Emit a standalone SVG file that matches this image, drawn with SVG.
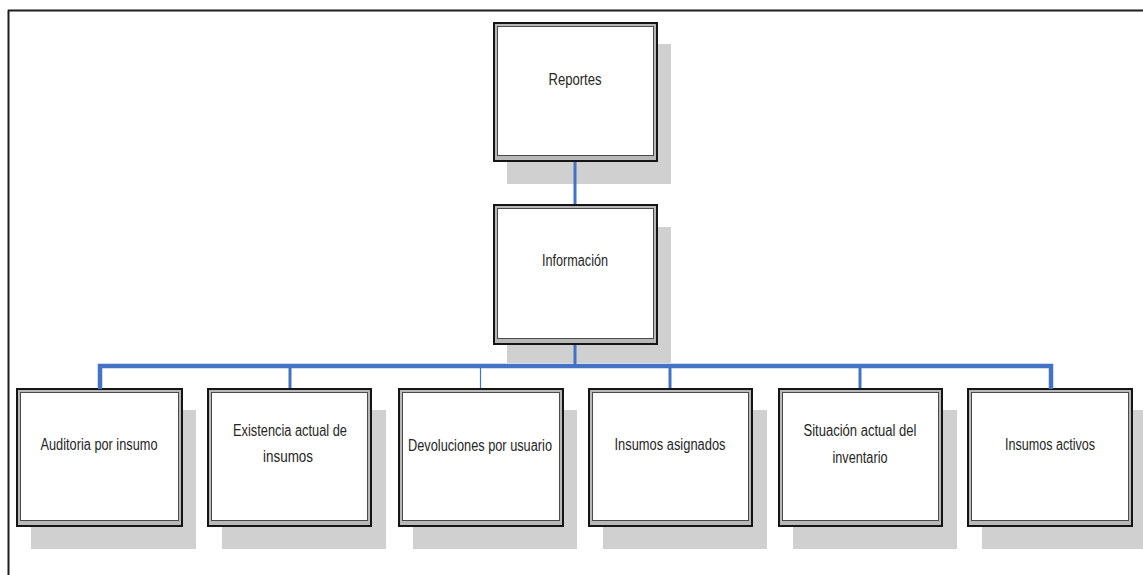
<svg xmlns="http://www.w3.org/2000/svg" width="1143" height="575" viewBox="0 0 1143 575">
  <defs>
    <style>
      .shadow { fill: #d0d0d0; }
      .outer { fill: #b8b8b8; stroke: #151515; stroke-width: 2; }
      .inner { fill: #ffffff; stroke: #4a4a4a; stroke-width: 1; }
      .label { font-family: "Liberation Sans", Arial, sans-serif; font-size: 16px; fill: #262626; text-anchor: middle; }
      .link { stroke: #4472c4; stroke-width: 3; fill: none; }
      .bus { stroke: #4472c4; stroke-width: 4.5; fill: none; }
      .thin { stroke: #4472c4; stroke-width: 1.2; fill: none; }
      .frame { stroke: #1e1e1e; stroke-width: 2; fill: none; }
    </style>
  </defs>

  <rect width="1143" height="575" fill="#ffffff"/>

  <!-- page frame: top and left rules -->
  <g id="frame">
    <line class="frame" x1="8" y1="10.5" x2="1143" y2="10.5"/>
    <line class="frame" x1="8.5" y1="10" x2="8.5" y2="575"/>
  </g>

  <!-- top level -->
  <g id="node-reportes">
    <rect class="shadow" x="507" y="44" width="164" height="140"/>
    <rect class="outer" x="494" y="23" width="163" height="138"/>
    <rect class="inner" x="497.5" y="26.5" width="156" height="129"/>
    <text class="label" x="575" y="85" textLength="53" lengthAdjust="spacingAndGlyphs">Reportes</text>
  </g>

  <g id="node-informacion">
    <rect class="shadow" x="507" y="227" width="164" height="136"/>
    <rect class="outer" x="494" y="205" width="163" height="139"/>
    <rect class="inner" x="497.5" y="208.5" width="156" height="130"/>
    <text class="label" x="575" y="266" textLength="66" lengthAdjust="spacingAndGlyphs">Información</text>
  </g>

  <!-- second level -->
  <g id="node-auditoria">
    <rect class="shadow" x="31" y="410" width="165" height="139"/>
    <rect class="outer" x="17" y="389" width="165" height="137"/>
    <rect class="inner" x="20.5" y="392.5" width="158" height="128"/>
    <text class="label" x="99" y="450" textLength="117" lengthAdjust="spacingAndGlyphs">Auditoria por insumo</text>
  </g>

  <g id="node-existencia">
    <rect class="shadow" x="222" y="410" width="164" height="139"/>
    <rect class="outer" x="208" y="389" width="163" height="137"/>
    <rect class="inner" x="211.5" y="392.5" width="156" height="128"/>
    <text class="label" x="290" y="436" textLength="114" lengthAdjust="spacingAndGlyphs">Existencia actual de</text>
    <text class="label" x="288" y="462" textLength="50" lengthAdjust="spacingAndGlyphs">insumos</text>
  </g>

  <g id="node-devoluciones">
    <rect class="shadow" x="413" y="410" width="164" height="139"/>
    <rect class="outer" x="399" y="389" width="164" height="137"/>
    <rect class="inner" x="402.5" y="392.5" width="157" height="128"/>
    <text class="label" x="480" y="451" textLength="144" lengthAdjust="spacingAndGlyphs">Devoluciones por usuario</text>
  </g>

  <g id="node-asignados">
    <rect class="shadow" x="603" y="410" width="164" height="139"/>
    <rect class="outer" x="589" y="389" width="163" height="137"/>
    <rect class="inner" x="592.5" y="392.5" width="156" height="128"/>
    <text class="label" x="670" y="450" textLength="111" lengthAdjust="spacingAndGlyphs">Insumos asignados</text>
  </g>

  <g id="node-situacion">
    <rect class="shadow" x="793" y="410" width="164" height="139"/>
    <rect class="outer" x="779" y="389" width="163" height="137"/>
    <rect class="inner" x="782.5" y="392.5" width="156" height="128"/>
    <text class="label" x="860" y="436" textLength="113" lengthAdjust="spacingAndGlyphs">Situación actual del</text>
    <text class="label" x="860" y="463" textLength="55" lengthAdjust="spacingAndGlyphs">inventario</text>
  </g>

  <g id="node-activos">
    <rect class="shadow" x="982" y="410" width="165" height="139"/>
    <rect class="outer" x="968" y="389" width="164" height="137"/>
    <rect class="inner" x="971.5" y="392.5" width="157" height="128"/>
    <text class="label" x="1050" y="450" textLength="90" lengthAdjust="spacingAndGlyphs">Insumos activos</text>
  </g>

  <!-- connectors -->
  <g id="connectors">
    <line class="link" x1="575" y1="162" x2="575" y2="204"/>
    <line class="link" x1="575" y1="345" x2="575" y2="366"/>
    <polyline class="bus" points="100,389 100,366 1051,366 1051,389"/>
    <line class="link" x1="100" y1="366" x2="100" y2="388"/>
    <line class="link" x1="290" y1="366" x2="290" y2="388"/>
    <line class="thin" x1="480.5" y1="366" x2="480.5" y2="388"/>
    <line class="link" x1="670" y1="366" x2="670" y2="388"/>
    <line class="link" x1="860" y1="366" x2="860" y2="388"/>
    <line class="link" x1="1051" y1="366" x2="1051" y2="388"/>
  </g>
</svg>
